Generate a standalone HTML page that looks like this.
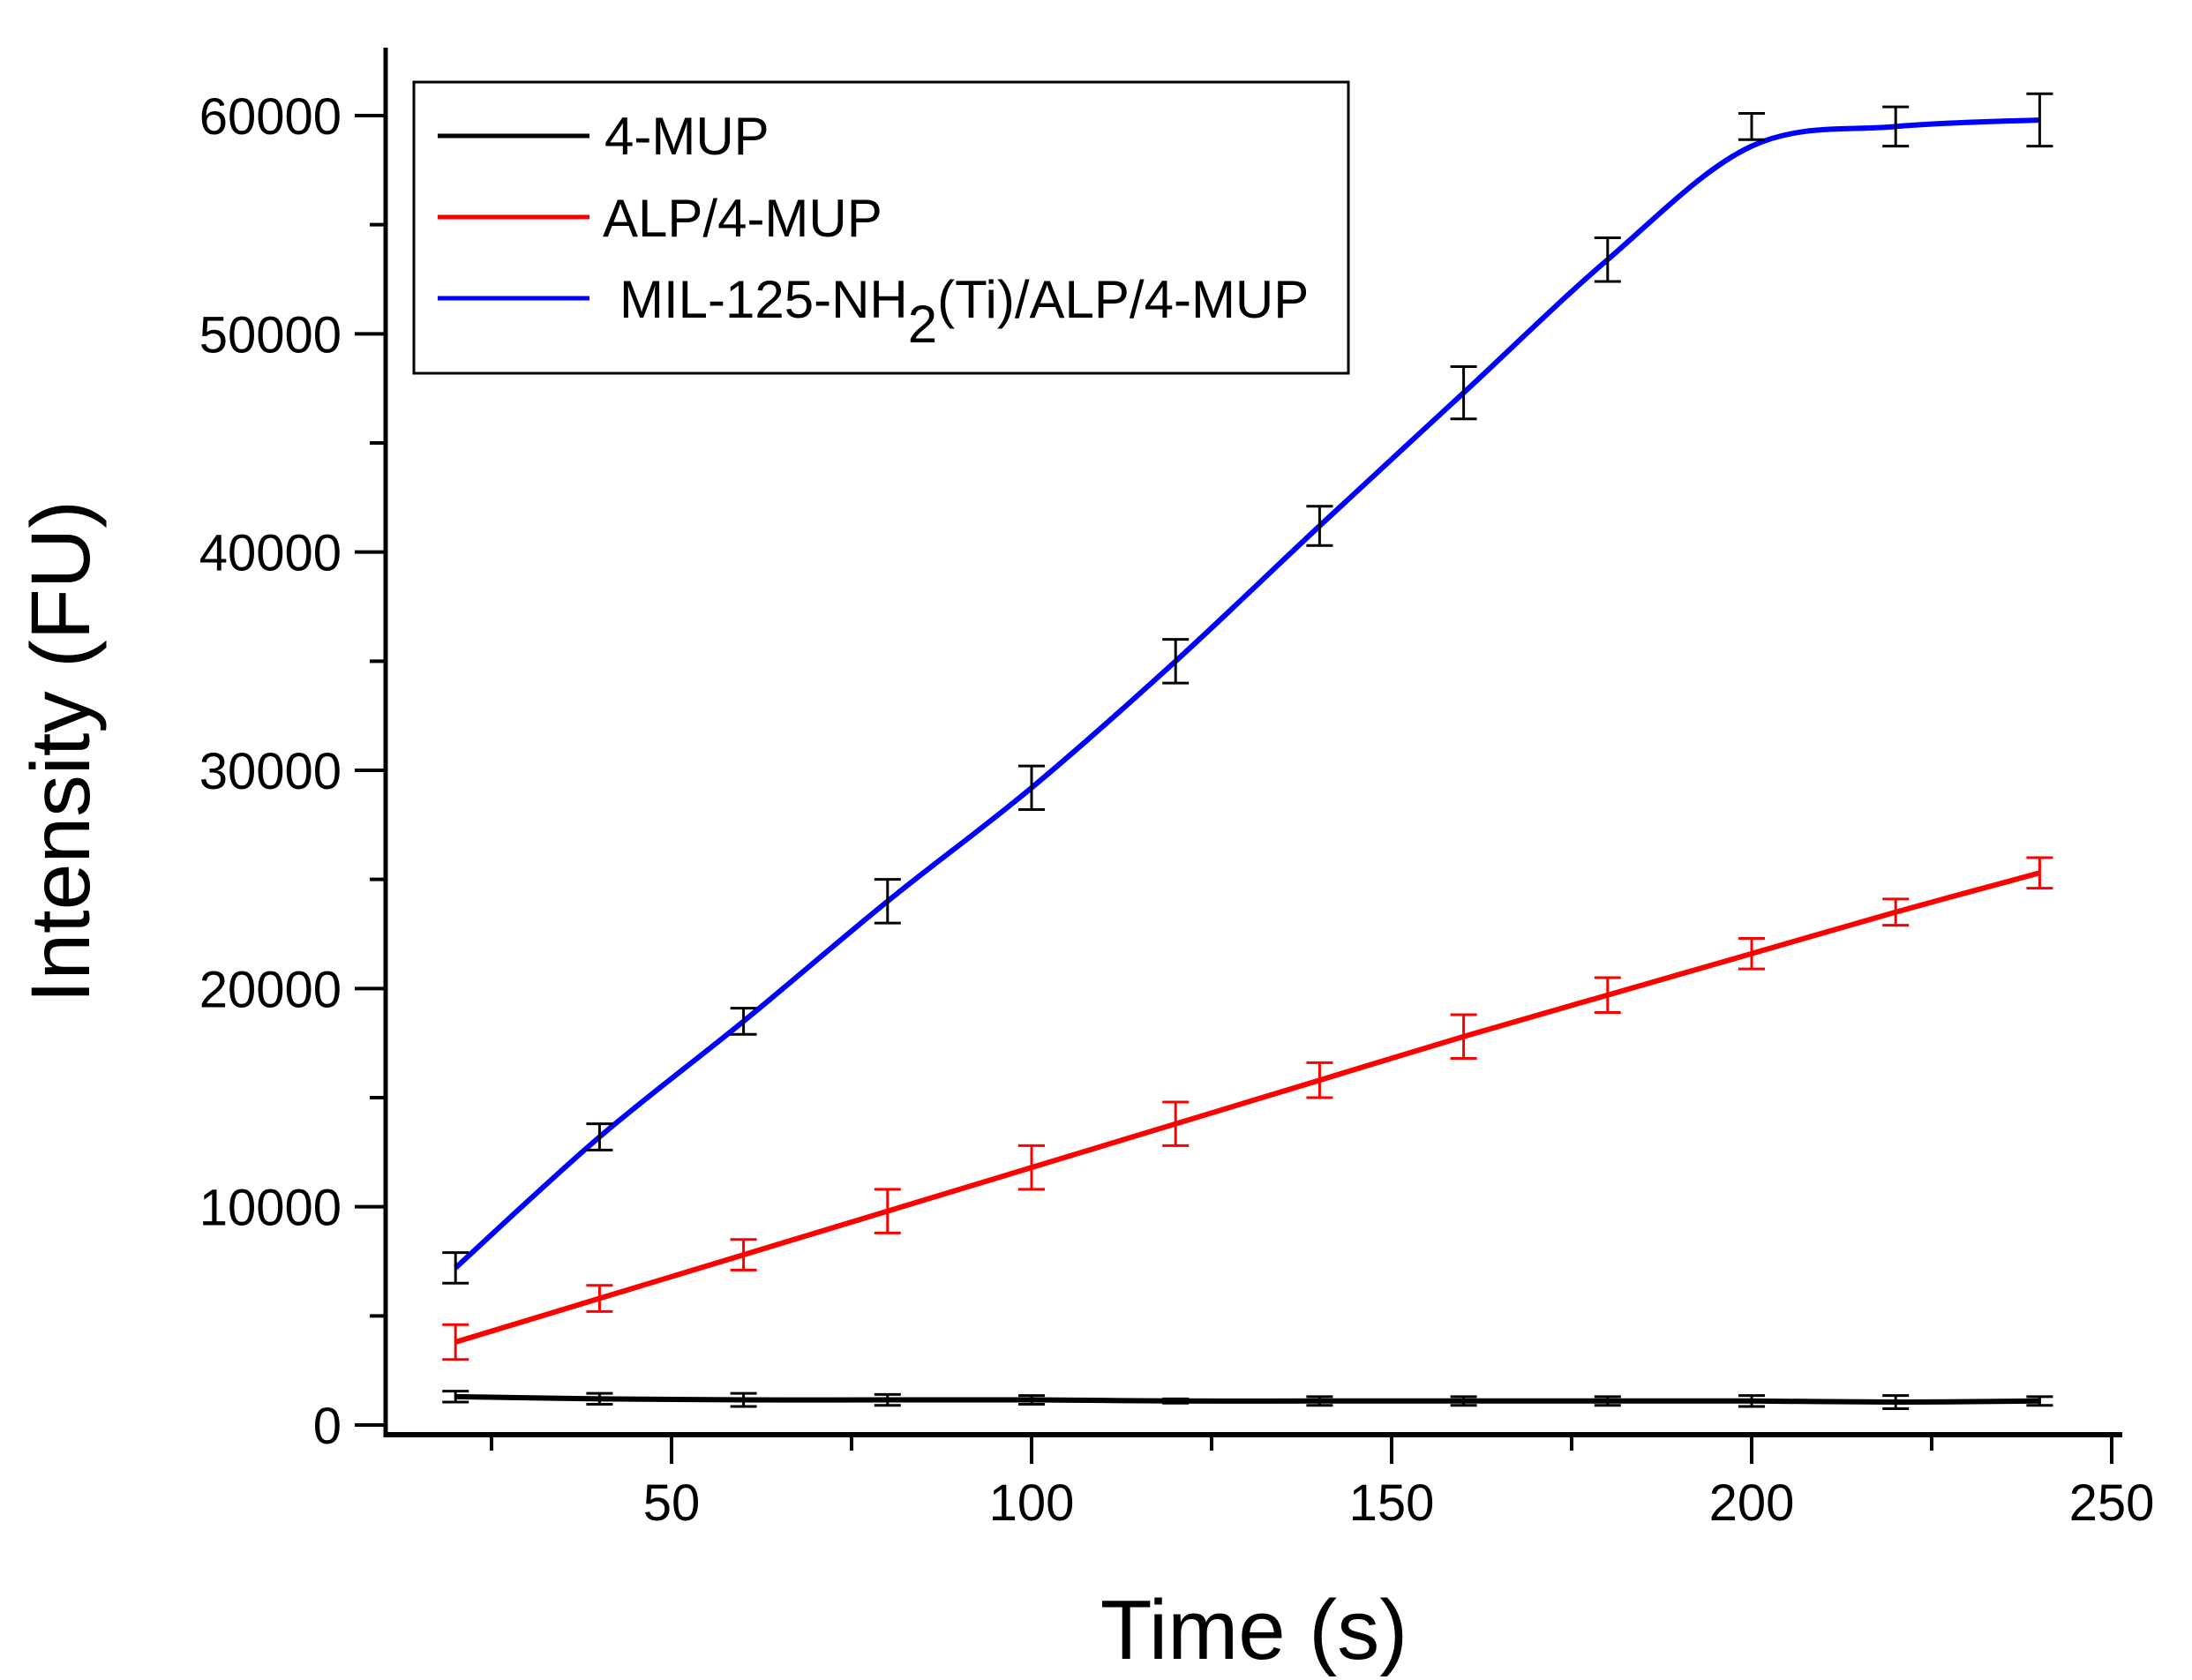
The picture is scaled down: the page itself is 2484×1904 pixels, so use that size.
<!DOCTYPE html>
<html><head><meta charset="utf-8"><style>
html,body{margin:0;padding:0;background:#fff;}
svg{display:block;font-family:"Liberation Sans",Arial,sans-serif;}
</style></head><body>
<svg id="chart" width="2484" height="1904" viewBox="0 0 2484 1904" xmlns="http://www.w3.org/2000/svg">
<rect x="0" y="0" width="2484" height="1904" fill="#fff"/>
<g id="plot"></g>
<g id="axes"></g>
<text x="1421" y="1880" font-size="96" text-anchor="middle">Time (s)</text>
<text transform="translate(101,852) rotate(-90)" font-size="95" text-anchor="middle">Intensity (FU)</text>
<g>
<rect x="469" y="93" width="1059" height="330" fill="#fff" stroke="#000" stroke-width="3"/>
<line x1="496" y1="154" x2="668" y2="154" stroke="#000" stroke-width="5"/>
<text x="685" y="175" font-size="60">4-MUP</text>
<line x1="496" y1="246" x2="668" y2="246" stroke="#f00" stroke-width="5"/>
<text x="683" y="268" font-size="60">ALP/4-MUP</text>
<line x1="496" y1="338" x2="668" y2="338" stroke="#00f" stroke-width="5"/>
<text x="702" y="360" font-size="60">MIL-125-NH<tspan dy="28" font-size="60">2</tspan><tspan dy="-28">(Ti)/ALP/4-MUP</tspan></text>
</g>
</svg>
<script>
const times = [20,40,60,80,100,120,140,160,180,200,220,240];
const blueVals = [7200,13200,18500,24000,29200,35000,41200,47300,53400,58600,59500,59800];
const blueMeans = [7200,13200,18500,24000,29200,35000,41200,47300,53400,59500,59500,59800];
const blueErr = [700,600,600,1000,1000,1000,900,1200,1000,600,900,1200];
const redVals = [3800,5800,7800,9800,11800,13800,15800,17800,19700,21600,23500,25300];
const redErr = [800,600,700,1000,1000,1000,800,1000,800,700,600,700];
const blackVals = [1300,1200,1150,1150,1150,1100,1100,1100,1100,1100,1050,1100];
const blackErr = [250,250,300,250,200,100,200,200,200,250,300,200];
const xTicks = [50,100,150,200,250];
const xMinor = [25,75,125,175,225];
const yTicks = [0,10000,20000,30000,40000,50000,60000];
const yMinor = [5000,15000,25000,35000,45000,55000];

const NS='http://www.w3.org/2000/svg';
const X0=437, XEND=2405, Y0=1626, YTOP=54;
function xs(v){return 353+v*8.16;}
function ys(v){return 1615-v*0.024733;}
function mk(parent,tag,attrs){const e=document.createElementNS(NS,tag);for(const k in attrs)e.setAttribute(k,attrs[k]);parent.appendChild(e);return e;}
const plot=document.getElementById('plot'), axes=document.getElementById('axes');

function smoothPath(xv,yv){
  const p=xv.map((x,i)=>[xs(x),ys(yv[i])]);
  let d='M'+p[0][0]+','+p[0][1];
  for(let i=0;i<p.length-1;i++){
    const p0=p[Math.max(0,i-1)],p1=p[i],p2=p[i+1],p3=p[Math.min(p.length-1,i+2)];
    const c1=[p1[0]+(p2[0]-p0[0])/6,p1[1]+(p2[1]-p0[1])/6];
    const c2=[p2[0]-(p3[0]-p1[0])/6,p2[1]-(p3[1]-p1[1])/6];
    d+=' C'+c1[0]+','+c1[1]+' '+c2[0]+','+c2[1]+' '+p2[0]+','+p2[1];
  }
  return d;
}
function series(vals,means,errs,color,errColor,name){
  const g=mk(plot,'g',{});
  
  
  const path=mk(g,'path',{d:smoothPath(times,vals),fill:'none',stroke:color,'stroke-width':6});
  
  
  times.forEach((t,i)=>{
    const x=xs(t),yt=ys(means[i]+errs[i]),yb=ys(means[i]-errs[i]);
    const eg=mk(g,'g',{stroke:errColor,'stroke-width':3});
    
    
    mk(eg,'line',{x1:x,y1:yt,x2:x,y2:yb});
    mk(eg,'line',{x1:x-15,y1:yt,x2:x+15,y2:yt});
    mk(eg,'line',{x1:x-15,y1:yb,x2:x+15,y2:yb});
  });
}
series(blackVals,blackVals,blackErr,'#000','#000','4mup');
series(redVals,redVals,redErr,'#f00','#f00','alp-4mup');
series(blueVals,blueMeans,blueErr,'#00f','#000','mil125');

const ya=mk(axes,'line',{x1:X0,y1:YTOP,x2:X0,y2:Y0+3,stroke:'#000','stroke-width':5});


const xa=mk(axes,'line',{x1:X0-2,y1:Y0,x2:XEND,y2:Y0,stroke:'#000','stroke-width':6});


yTicks.forEach(v=>{
  const y=ys(v);
  const t=mk(axes,'line',{x1:X0-35,y1:y,x2:X0,y2:y,stroke:'#000','stroke-width':4});
  
  
  const l=mk(axes,'text',{x:387,y:y+21,'font-size':58,'text-anchor':'end'});
  l.textContent=v;
  
  
});
yMinor.forEach(v=>{
  const y=ys(v);
  const t=mk(axes,'line',{x1:X0-18,y1:y,x2:X0,y2:y,stroke:'#000','stroke-width':4});
  
  
});
xTicks.forEach(v=>{
  const x=xs(v);
  const t=mk(axes,'line',{x1:x,y1:Y0,x2:x,y2:Y0+33,stroke:'#000','stroke-width':4});
  
  
  const l=mk(axes,'text',{x:x,y:1723,'font-size':58,'text-anchor':'middle'});
  l.textContent=v;
  
  
});
xMinor.forEach(v=>{
  const x=xs(v);
  const t=mk(axes,'line',{x1:x,y1:Y0,x2:x,y2:Y0+18,stroke:'#000','stroke-width':4});
  
  
});
</script>
</body></html>
